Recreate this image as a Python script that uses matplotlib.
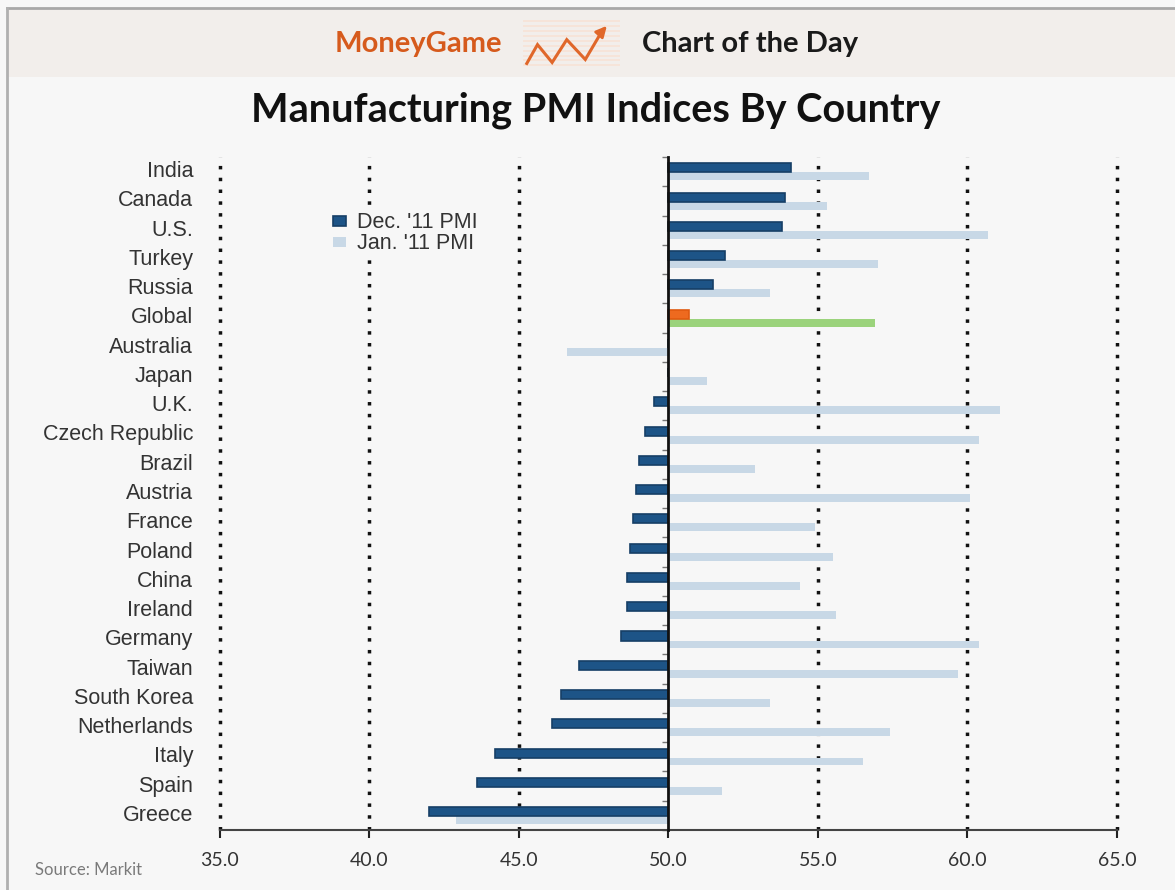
import numpy as np
import matplotlib.pyplot as plt
from matplotlib.patches import Rectangle
from matplotlib.lines import Line2D

# PMI readings, top row first
countries = ["India", "Canada", "U.S.", "Turkey", "Russia", "Global", "Australia",
             "Japan", "U.K.", "Czech Republic", "Brazil", "Austria", "France",
             "Poland", "China", "Ireland", "Germany", "Taiwan", "South Korea",
             "Netherlands", "Italy", "Spain", "Greece"]
dec_11 = [54.1, 53.9, 53.8, 51.9, 51.5, 50.7, 50.0, 50.0, 49.5, 49.2, 49.0, 48.9,
          48.8, 48.7, 48.6, 48.6, 48.4, 47.0, 46.4, 46.1, 44.2, 43.6, 42.0]
jan_11 = [56.7, 55.3, 60.7, 57.0, 53.4, 56.9, 46.6, 51.3, 61.1, 60.4, 52.9, 60.1,
          54.9, 55.5, 54.4, 55.6, 60.4, 59.7, 53.4, 57.4, 56.5, 51.8, 42.9]
x_ticks = [35.0, 40.0, 45.0, 50.0, 55.0, 60.0, 65.0]
base = 50.0

dark = "#1d5487"
light = "#c8d8e6"
dec_colors = ["#ee6a1f" if c == "Global" else dark for c in countries]
jan_colors = ["#9bd37c" if c == "Global" else light for c in countries]
dec_edges = ["#e05a10" if c == "Global" else "#163f66" for c in countries]

bg = "#f7f7f7"
fig = plt.figure(figsize=(11.75, 8.9), dpi=100, facecolor=bg)

# header band with border
fig.patches.append(Rectangle((0.006, 0.9135), 0.994, 0.0775, transform=fig.transFigure,
                             facecolor="#f2eeeb", edgecolor="none", zorder=-1))
fig.add_artist(Line2D([0.006, 1.0], [0.991, 0.991], transform=fig.transFigure,
                      color="#a8a8a8", lw=2))
fig.add_artist(Line2D([0.006, 0.006], [0.0, 0.991], transform=fig.transFigure,
                      color="#b0b0b0", lw=2))

fig.text(0.3557, 0.9506, "MoneyGame", ha="center", va="center", fontsize=21,
         fontweight="bold", color="#d65a1c", family="Lato")
fig.text(0.638, 0.9506, "Chart of the Day", ha="center", va="center", fontsize=21,
         fontweight="bold", color="#1a1a1a", family="Lato")

# little zigzag logo
icon = fig.add_axes([0.445, 0.922, 0.083, 0.058], zorder=2)
icon.set_xlim(0, 100)
icon.set_ylim(0, 52)
icon.axis("off")
for yy in range(4, 52, 5):
    icon.axhline(yy, color="#f8e3d6", lw=1.2)
zx = [4, 15, 30, 45, 64, 82]
zy = [6, 25, 7, 30, 10, 40]
icon.plot(zx, zy, color="#e0672a", lw=2.2, solid_joinstyle="miter")
icon.annotate("", xy=(88, 46), xytext=(80, 37),
              arrowprops=dict(arrowstyle="-|>", color="#e0672a", lw=2, mutation_scale=16))

fig.text(0.507, 0.876, "Manufacturing PMI Indices By Country", ha="center", va="center",
         fontsize=28.5, fontweight="bold", color="#111111", family="Lato")

ax = fig.add_axes([0.1872, 0.0674, 0.7634, 0.7562])
ax.set_facecolor(bg)
y = np.arange(len(countries))
ax.barh(y - 0.13, np.array(dec_11) - base, left=base, height=0.31, color=dec_colors,
        edgecolor=dec_edges, linewidth=1.2, zorder=3, label="Dec. '11 PMI")
ax.barh(y + 0.16, np.array(jan_11) - base, left=base, height=0.27, color=jan_colors,
        edgecolor="none", zorder=2, label="Jan. '11 PMI")

ax.set_xlim(35, 65)
ax.set_ylim(len(countries) - 0.5, -0.5)

for xv in x_ticks:
    if xv != base:
        ax.axvline(xv, color="#111111", lw=2.5, linestyle=(0, (1, 2.4)), zorder=1,
                   clip_on=False)

# baseline at 50 carries the category ticks
ax.spines["left"].set_position(("data", base))
ax.spines["left"].set_linewidth(2)
ax.spines["left"].set_color("#111111")
ax.spines["left"].set_zorder(4)
ax.spines["top"].set_visible(False)
ax.spines["right"].set_visible(False)
ax.spines["bottom"].set_color("#444444")
ax.spines["bottom"].set_linewidth(1.5)
ax.set_yticks(np.arange(len(countries) + 1) - 0.5)
ax.tick_params(axis="y", length=4, width=1, color="#777777", labelleft=False)

for yi, name in zip(y, countries):
    ax.text(-0.03, yi, name, transform=ax.get_yaxis_transform(), ha="right", va="center",
            fontsize=15.5, color="#333333", family="Liberation Sans")

ax.set_xticks(x_ticks)
ax.set_xticklabels([f"{v:.1f}" for v in x_ticks], family="Lato", fontsize=14, color="#333333")
ax.tick_params(axis="x", length=6, width=1.5, color="#222222", pad=10)

leg = ax.legend(loc="upper left", bbox_to_anchor=(0.112, 0.937), frameon=True,
                facecolor=bg, edgecolor="none", framealpha=1.0, fancybox=False,
                borderpad=0.1, prop={"family": "Liberation Sans", "size": 15.5},
                handlelength=0.6, handleheight=0.35, handletextpad=0.5, labelspacing=0.0,
                labelcolor="#333333")
leg.set_zorder(5)

fig.text(0.03, 0.013, "Source: Markit", ha="left", va="bottom", fontsize=12,
         color="#7a7a7a", family="Lato")

fig.savefig("out.png", dpi=100, facecolor=bg)
